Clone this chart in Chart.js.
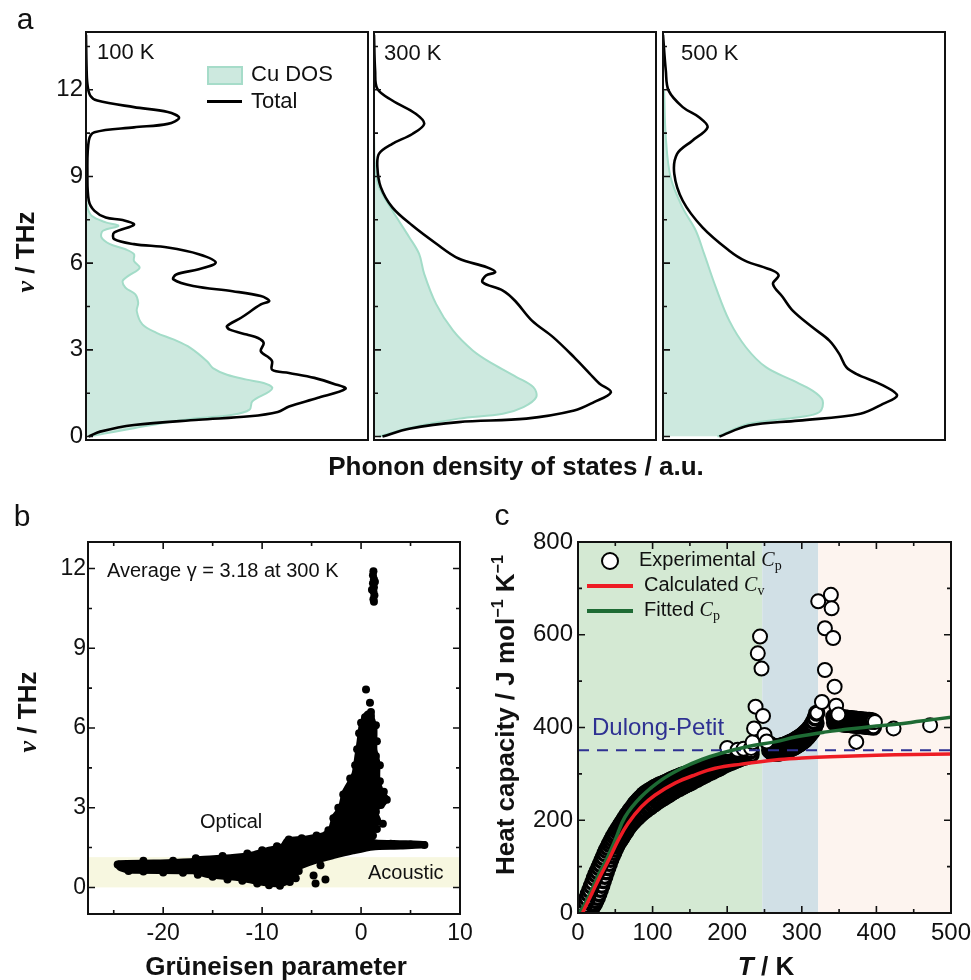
<!DOCTYPE html>
<html>
<head>
<meta charset="utf-8">
<script src="https://cdn.jsdelivr.net/npm/chart.js@4.4.1/dist/chart.umd.min.js"></script>
<style>
  body { margin: 0; background: #fff; }
  #fig { position: relative; width: 971px; height: 980px; overflow: hidden; background: #fff;
         font-family: "Liberation Sans", Arial, sans-serif; color: #111; }
  .cv { position: absolute; }
  .t { position: absolute; white-space: nowrap; line-height: 1; transform: translate(0, -50%); z-index: 5; }
  .c { transform: translate(-50%, -50%); }
  .rot { transform: translate(-50%, -50%) rotate(-90deg); }
  .b { font-weight: bold; }
  .nu { font-family: "Liberation Serif", serif; font-style: italic; font-weight: bold; }
  .sym { font-family: "Liberation Serif", serif; }
  .sym i { font-style: italic; }
  .sym sub { font-size: 0.7em; vertical-align: -0.25em; }
  sup { font-size: 0.62em; vertical-align: 0.7em; line-height: 0; }
  .sw { position: absolute; z-index: 5; }
</style>
</head>
<body>
<div id="fig">
  <div class="cv" style="left:0;top:0"><canvas id="a1" width="372" height="470"></canvas></div>
  <div class="cv" style="left:370px;top:0"><canvas id="a2" width="290" height="470"></canvas></div>
  <div class="cv" style="left:659px;top:0"><canvas id="a3" width="300" height="470"></canvas></div>
  <div class="cv" style="left:0;top:490px"><canvas id="b" width="480" height="490"></canvas></div>
  <div class="cv" style="left:490px;top:490px"><canvas id="c" width="481" height="490"></canvas></div>

  <!-- panel letters -->
  <div class="t c" style="left:25px;top:19px;font-size:30px">a</div>
  <div class="t c" style="left:22px;top:516px;font-size:30px">b</div>
  <div class="t c" style="left:502px;top:515px;font-size:30px">c</div>

  <!-- panel a text -->
  <div class="t" style="left:97px;top:52px;font-size:22px">100 K</div>
  <div class="t" style="left:384px;top:53px;font-size:22px">300 K</div>
  <div class="t" style="left:681px;top:53px;font-size:22px">500 K</div>
  <div class="sw" style="left:207px;top:66px;width:32px;height:15px;background:#cde9df;border:2px solid #a6dcc9"></div>
  <div class="t" style="left:251px;top:74px;font-size:22px">Cu DOS</div>
  <div class="sw" style="left:207px;top:100px;width:35px;height:3px;background:#000"></div>
  <div class="t" style="left:251px;top:101px;font-size:22px">Total</div>
  <div class="t rot b" style="left:25px;top:252px;font-size:26px"><span class="nu">ν</span> / THz</div>
  <div class="t c b" style="left:516px;top:466px;font-size:26px">Phonon density of states / a.u.</div>

  <!-- panel b text -->
  <div class="t" style="left:107px;top:570px;font-size:20px">Average γ = 3.18 at 300 K</div>
  <div class="t" style="left:200px;top:821px;font-size:20px">Optical</div>
  <div class="t" style="left:368px;top:872px;font-size:20px">Acoustic</div>
  <div class="t rot b" style="left:27px;top:712px;font-size:26px"><span class="nu">ν</span> / THz</div>
  <div class="t c b" style="left:276px;top:966px;font-size:26px">Grüneisen parameter</div>

  <!-- panel c text -->
  <div class="sw" style="left:601px;top:552px;width:14px;height:14px;border:2px solid #000;border-radius:50%;background:#fff"></div>
  <div class="t" style="left:639px;top:561px;font-size:20px">Experimental <span class="sym"><i>C</i><sub>p</sub></span></div>
  <div class="sw" style="left:587px;top:584px;width:46px;height:4px;background:#ee1c24"></div>
  <div class="t" style="left:644px;top:586px;font-size:20px">Calculated <span class="sym"><i>C</i><sub>v</sub></span></div>
  <div class="sw" style="left:587px;top:609px;width:46px;height:4px;background:#1e6b34"></div>
  <div class="t" style="left:644px;top:611px;font-size:20px">Fitted <span class="sym"><i>C</i><sub>p</sub></span></div>
  <div class="t" style="left:592px;top:727px;font-size:24px;color:#2e3192">Dulong-Petit</div>
  <div class="t rot b" style="left:505px;top:715px;font-size:26px">Heat capacity / J mol<sup>−1</sup> K<sup>−1</sup></div>
  <div class="t c b" style="left:766px;top:966px;font-size:26px"><i>T</i> / K</div>
</div>

<script>
// ---- panel a: phonon DOS (frequency in THz, DOS in a.u. as fraction of panel width)
const nuTicks = [0, 3, 6, 9, 12];
const nuMinor = [1.5, 4.5, 7.5, 10.5, 13.5];

const tot100Nu  = [0, 0.17, 0.4, 0.58, 0.7, 0.85, 1.04, 1.33, 1.65, 1.82, 2.03, 2.2, 2.31, 2.6, 2.72, 2.95, 3.24, 3.41, 3.53, 3.7, 3.82, 4.11, 4.57, 4.69, 4.86, 5.03, 5.21, 5.44, 5.61, 5.79, 6.02, 6.31, 6.54, 6.66, 6.83, 7.06, 7.33, 7.49, 7.58, 7.81, 8.16, 9.09, 10.24, 10.53, 10.7, 10.82, 11.03, 11.23, 11.4, 11.63, 11.8, 12.2, 12.8, 13.9];
const tot100Dos = [0.01, 0.05, 0.17, 0.40, 0.58, 0.68, 0.72, 0.82, 0.92, 0.88, 0.81, 0.72, 0.66, 0.66, 0.65, 0.62, 0.63, 0.61, 0.57, 0.51, 0.50, 0.55, 0.62, 0.65, 0.62, 0.52, 0.38, 0.31, 0.32, 0.40, 0.46, 0.40, 0.29, 0.17, 0.10, 0.10, 0.17, 0.13, 0.07, 0.03, 0.01, 0.005, 0.01, 0.03, 0.17, 0.29, 0.33, 0.29, 0.17, 0.04, 0.015, 0.005, 0.002, 0];
const cu100Nu   = [0, 0.29, 0.58, 0.75, 0.93, 1.22, 1.56, 1.7, 1.85, 1.97, 2.14, 2.37, 2.6, 3.07, 3.36, 3.59, 3.88, 4.34, 4.63, 4.92, 5.15, 5.38, 5.56, 5.84, 6.08, 6.31, 6.48, 6.66, 6.89, 7.12, 7.29, 7.41, 7.64, 7.93, 8.28];
const cu100Dos  = [0.01, 0.17, 0.35, 0.52, 0.58, 0.59, 0.65, 0.66, 0.63, 0.57, 0.50, 0.45, 0.43, 0.37, 0.31, 0.25, 0.20, 0.18, 0.185, 0.175, 0.14, 0.13, 0.15, 0.19, 0.17, 0.17, 0.14, 0.085, 0.055, 0.06, 0.115, 0.07, 0.02, 0.005, 0];

const tot300Nu  = [0, 0.27, 0.5, 0.62, 0.9, 1.19, 1.53, 1.83, 2.18, 2.74, 3.44, 4.01, 4.7, 5.05, 5.34, 5.57, 5.69, 5.86, 6.16, 6.68, 7.3, 7.93, 8.63, 9.32, 9.79, 10.13, 10.47, 10.82, 11.17, 11.63, 12.03, 12.66, 13.9];
const tot300Dos = [0.03, 0.125, 0.30, 0.54, 0.71, 0.78, 0.84, 0.80, 0.765, 0.71, 0.635, 0.56, 0.50, 0.457, 0.385, 0.397, 0.43, 0.40, 0.30, 0.22, 0.136, 0.065, 0.024, 0.012, 0.018, 0.065, 0.136, 0.178, 0.148, 0.065, 0.012, 0.004, 0];
const cu300Nu   = [0, 0.3, 0.62, 0.79, 1.02, 1.36, 1.71, 2.06, 2.52, 2.98, 3.67, 4.59, 5.63, 6.32, 6.9, 7.82, 8.63, 9.32, 10.5];
const cu300Dos  = [0.018, 0.125, 0.30, 0.457, 0.53, 0.575, 0.565, 0.505, 0.42, 0.35, 0.28, 0.22, 0.178, 0.16, 0.125, 0.065, 0.018, 0.004, 0];

const tot500Nu  = [0, 0.38, 0.55, 0.79, 1.13, 1.42, 1.77, 2.17, 2.4, 2.86, 3.32, 3.78, 4.36, 4.82, 5.28, 5.57, 5.74, 6.09, 6.43, 7.24, 8.16, 9.09, 9.78, 10.24, 10.7, 11.05, 11.4, 11.97, 12.66, 13.9];
const tot500Dos = [0.20, 0.305, 0.48, 0.70, 0.78, 0.83, 0.78, 0.685, 0.65, 0.625, 0.59, 0.53, 0.46, 0.425, 0.39, 0.41, 0.39, 0.29, 0.235, 0.14, 0.07, 0.04, 0.05, 0.104, 0.158, 0.128, 0.07, 0.02, 0.01, 0];
const cu500Nu   = [0, 0.44, 0.67, 0.85, 1.25, 1.59, 1.94, 2.4, 3.09, 4.01, 5.17, 6.32, 7.13, 7.93, 8.97, 10.35, 11.97];
const cu500Dos  = [0.193, 0.305, 0.48, 0.555, 0.566, 0.53, 0.46, 0.365, 0.294, 0.235, 0.187, 0.146, 0.116, 0.069, 0.027, 0.01, 0.004];

// ---- panel b: Grüneisen parameter vs frequency
const gruTicks = [-20, -10, 0, 10];
const gruMinor = [-25, -15, -5, 5];
const acousticBand = [0, 1.14];
// outline of the dense cloud of points
const blobGru = [-24.8, -24.5, -21, -17, -16.5, -13, -11, -9.5, -8, -7.6, -5.5, -4, -3.2, -2.8, -2.2, -1.8, -1.2, -0.8, -0.5, -0.3, -0.1, 0.2, 0.6, 1.2, 1.5, 1.5, 1.8, 1.8, 2.2, 2.7, 2.3, 1.5, 1.9, 1.3, 0.9, 1.5, 4, 6.5, 6.6, 4, 1.2, -0.8, -2.8, -4.5, -6.2, -6.8, -8, -10, -12.5, -15.4, -17, -23.5, -24.5, -24.8];
const blobNu  = [0.85, 0.97, 0.99, 1.05, 1.12, 1.2, 1.3, 1.46, 1.6, 1.82, 1.9, 2.0, 2.2, 2.7, 3.0, 3.6, 4.0, 4.3, 5.0, 5.5, 6.1, 6.4, 6.6, 6.4, 6.0, 5.2, 4.7, 4.1, 3.6, 3.35, 3.1, 2.9, 2.5, 2.2, 1.85, 1.75, 1.72, 1.68, 1.55, 1.48, 1.45, 1.3, 1.12, 0.95, 0.7, 0.3, 0.07, 0.12, 0.3, 0.4, 0.55, 0.58, 0.7, 0.85];
// individual points on the edge of the cloud and isolated modes
const dotGru = [-24.6, -23.5, -22, -20, -18, -16.5, -15, -13.5, -12, -10.5, -9.3, -8.2, -7.2, -6.6, -6.3, -22, -19, -16.7, -14, -11.5, -10, -8.5, -7.3, -6, -4.5, -3.3, -2.8, -2.3, -1.8, -1.1, -0.6, -0.4, -0.2, 0.0, 0.4, 1.0, 1.5, 1.6, 1.5, 1.9, 1.9, 2.3, 2.6, 2.0, 1.5, 2.2, 1.6, 1.2, 6.4, 5, 3, -4.1, -4.6, -3.6, -4.8, 0.5, 0.9, 1.0, 1.25, 1.2, 1.3, 1.2, 1.3, 1.25, 1.35, 1.25, 1.3, 1.4, 1.1];
const dotNu  = [0.86, 0.62, 0.6, 0.56, 0.55, 0.48, 0.4, 0.3, 0.25, 0.15, 0.08, 0.06, 0.2, 0.35, 0.62, 1.0, 1.0, 1.1, 1.18, 1.28, 1.4, 1.55, 1.8, 1.85, 1.95, 2.15, 2.6, 3.0, 3.5, 4.1, 4.6, 5.2, 5.8, 6.2, 6.4, 6.45, 6.1, 5.5, 4.95, 4.6, 4.0, 3.6, 3.3, 3.1, 2.85, 2.4, 2.2, 1.95, 1.6, 1.62, 1.64, 0.83, 0.15, 0.3, 0.45, 7.45, 6.95, 6.6, 11.9, 11.75, 11.6, 11.45, 11.3, 11.15, 11.0, 10.85, 10.75, 11.5, 11.2];

// ---- panel c: heat capacity
const tTicks = [0, 100, 200, 300, 400, 500];
const tMinor = [50, 150, 250, 350, 450];
const cTicks = [0, 200, 400, 600, 800];
const cMinor = [100, 300, 500, 700];
const regionFrom  = [0, 247, 322];
const regionTo    = [247, 322, 500];
const regionColor = ['#d4e9d3', '#d1e0e6', '#fdf4ef'];
const dulongPetit = 351;

// measured Cp: upper edge of the dense band (low T, 250-320 K, 343-395 K)
const expUpT  = [6, 8, 10, 12, 14, 16, 18, 20, 22, 24, 26, 28, 30, 32, 34, 36, 38, 40, 42, 44, 46, 48, 50, 52, 54, 56, 58, 60, 62, 64, 66, 68, 70, 72, 74, 76, 78, 80, 82, 84, 86, 88,
                 91, 94, 97, 100, 103, 106, 109, 112, 115, 118, 121, 124, 127, 130, 133, 136, 139, 142, 145, 148, 151, 154, 157, 160, 163, 166, 169, 172, 175, 178, 181, 184, 187, 190, 193, 196, 199, 202, 205, 208, 211, 214, 217, 220, 223, 226, 229, 232,
                 256, 258, 260, 262, 264, 266, 268, 270, 272, 274, 276, 278, 280, 282, 284, 286, 288, 290, 292, 294, 296, 298, 300, 302, 304, 306, 308, 310, 312, 314, 316, 318, 320,
                 343, 345, 347, 349, 351, 353, 355, 357, 359, 361, 363, 365, 367, 369, 371, 373, 375, 377, 379, 381, 383, 385, 387, 389, 391, 393, 395];
const expUpCp = [7, 15, 24, 32, 41, 49, 58, 66, 75, 83, 90, 98, 105, 113, 120, 128, 135, 141, 148, 154, 160, 166, 171, 177, 182, 187, 192, 197, 202, 207, 212, 216, 221, 225, 229, 234, 238, 241, 245, 248, 251, 255,
                 259, 262, 265, 268, 271, 273, 276, 278, 280, 282, 284, 287, 289, 291, 293, 295, 297, 298, 300, 302, 303, 305, 307, 308, 310, 311, 313, 314, 316, 318, 320, 322, 324, 326, 328, 330, 332, 334, 335, 337, 339, 340, 342, 344, 345, 347, 348, 350,
                 365, 362, 360, 359, 358, 358, 358, 359, 360, 361, 362, 363, 364, 366, 367, 369, 370, 372, 374, 376, 378, 380, 382, 385, 388, 391, 394, 398, 402, 407, 413, 421, 431,
                 423, 423, 422, 422, 421, 421, 421, 420, 420, 420, 419, 419, 419, 418, 418, 418, 417, 417, 417, 416, 416, 416, 415, 415, 415, 414, 414];
// measured Cp: lower edge of the dense band
const expLoT  = [16, 18, 20, 22, 24, 26, 28, 30, 32, 34, 36, 38, 40, 42, 44, 46, 48, 50, 52, 54, 56, 58, 60, 62, 64, 66, 68, 70, 72, 74, 76, 78, 80, 82, 84, 86, 88,
                 91, 94, 97, 100, 103, 106, 109, 112, 115, 118, 121, 124, 127, 130, 133, 136, 139, 142, 145, 148, 151, 154, 157, 160, 163, 166, 169, 172, 175, 178, 181, 184, 187, 190, 193, 196, 199, 202, 205, 208, 211, 214, 217, 220, 223, 226, 229, 232,
                 257, 259, 261, 263, 265, 267, 269, 271, 273, 275, 277, 279, 281, 283, 285, 287, 289, 291, 293, 295, 297, 299, 301, 303, 305, 307, 309, 311, 313, 315, 317, 319,
                 344, 346, 348, 350, 352, 354, 356, 358, 360, 362, 364, 366, 368, 370, 372, 374, 376, 378, 380, 382, 384, 386, 388, 390, 392, 394, 396];
const expLoCp = [5, 10, 15, 20, 27, 34, 42, 51, 60, 70, 79, 89, 98, 107, 116, 124, 131, 138, 145, 151, 156, 161, 166, 171, 176, 181, 186, 190, 194, 197, 201, 204, 207, 210, 213, 216, 219,
                 222, 226, 229, 233, 236, 240, 243, 246, 249, 252, 255, 258, 261, 264, 267, 269, 272, 274, 277, 279, 281, 284, 287, 289, 292, 294, 297, 299, 302, 304, 306, 309, 311, 313, 316, 319, 321, 323, 325, 327, 329, 331, 333, 335, 336, 338, 340, 342,
                 351, 348, 346, 345, 345, 345, 345, 346, 347, 348, 349, 350, 351, 353, 354, 356, 357, 359, 361, 363, 365, 367, 370, 372, 375, 378, 382, 386, 390, 395, 401, 409,
                 410, 410, 409, 409, 409, 408, 408, 408, 407, 407, 407, 406, 406, 406, 405, 405, 405, 404, 404, 404, 403, 403, 403, 402, 402, 402, 401];
// measured Cp: separate circles round the two transitions and above 370 K
const expPkT  = [200, 214, 222, 232, 234, 236, 238, 241, 244, 246, 248, 250, 253, 322, 339, 340, 331, 342, 331, 344, 327, 346, 349, 373, 398, 423, 472];
const expPkCp = [356, 352, 354, 356, 368, 398, 445, 560, 596, 527, 425, 384, 370, 672, 686, 657, 614, 593, 524, 488, 455, 447, 428, 369, 412, 398, 405];

const cvT  = [6, 12, 18, 23, 30, 41, 54, 67, 85, 103, 130, 157, 184, 219, 264, 300, 338, 400, 450, 500];
const cvC  = [0, 20, 40, 57, 80, 114, 157, 193, 229, 254, 280, 298, 312, 321, 330, 334, 337, 340, 342, 343];
const fitT = [2, 10, 20, 30, 40, 50, 63, 85, 112, 139, 166, 193, 228, 264, 293, 330, 360, 400, 427, 460, 500];
const fitC = [0, 22, 56, 90, 122, 158, 207, 251, 287, 312, 331, 345, 359, 369, 380, 390, 396, 403, 407, 414, 422];

Chart.defaults.font.family = '"Liberation Sans", Arial, sans-serif';
Chart.defaults.color = '#111';

const pts = (xs, ys) => xs.map((x, i) => ({ x: x, y: ys[i] }));

// box round the plot area
const framePlugin = {
    id: 'frame',
    afterDraw(chart, args, o) {
        const { ctx, chartArea: a } = chart;
        ctx.save();
        ctx.strokeStyle = '#111';
        ctx.lineWidth = o.width || 2;
        ctx.strokeRect(a.left, a.top, a.right - a.left, a.bottom - a.top);
        ctx.restore();
    }
};

// inward tick marks
const marksPlugin = {
    id: 'marks',
    afterDatasetsDraw(chart, args, o) {
        const { ctx, chartArea: a, scales } = chart;
        ctx.save();
        ctx.strokeStyle = '#111';
        ctx.lineWidth = 1.6;
        ctx.beginPath();
        const put = (scale, vals, len, sides) => vals.forEach(v => {
            const p = scale.getPixelForValue(v);
            sides.forEach(s => {
                if (s === 'left')   { ctx.moveTo(a.left, p);   ctx.lineTo(a.left + len, p); }
                if (s === 'right')  { ctx.moveTo(a.right, p);  ctx.lineTo(a.right - len, p); }
                if (s === 'bottom') { ctx.moveTo(p, a.bottom); ctx.lineTo(p, a.bottom - len); }
                if (s === 'top')    { ctx.moveTo(p, a.top);    ctx.lineTo(p, a.top + len); }
            });
        });
        if (o.y) { put(scales.y, o.y.major, 7, o.y.sides); put(scales.y, o.y.minor, 4, o.y.sides); }
        if (o.x) { put(scales.x, o.x.major, 7, o.x.sides); put(scales.x, o.x.minor, 4, o.x.sides); }
        ctx.stroke();
        ctx.restore();
    }
};

// shaded background bands
const bandsPlugin = {
    id: 'bands',
    beforeDatasetsDraw(chart, args, o) {
        const { ctx, chartArea: a, scales } = chart;
        ctx.save();
        (o.x || []).forEach(b => {
            const x0 = scales.x.getPixelForValue(b.from), x1 = scales.x.getPixelForValue(b.to);
            ctx.fillStyle = b.color;
            ctx.fillRect(x0, a.top, x1 - x0, a.bottom - a.top);
        });
        (o.y || []).forEach(b => {
            const y0 = scales.y.getPixelForValue(b.from), y1 = scales.y.getPixelForValue(b.to);
            ctx.fillStyle = b.color;
            ctx.fillRect(a.left, y1, a.right - a.left, y0 - y1);
        });
        ctx.restore();
    }
};

const fixTicks = vals => scale => { scale.ticks = vals.map(v => ({ value: v })); };
const fixWidth = w => scale => { scale.width = w; scale.paddingTop = 0; scale.paddingBottom = 0; };
const fixHeight = h => scale => { scale.height = h; scale.paddingLeft = 0; scale.paddingRight = 0; };
const noGrid = { display: false, drawTicks: false };

function dosChart(id, totNu, totDos, cuNu, cuDos, pad, showLabels) {
    return new Chart(document.getElementById(id), {
        type: 'line',
        data: {
            datasets: [
                { label: 'Total', data: pts(totDos, totNu), borderColor: '#000', borderWidth: 2.6,
                  pointRadius: 0, tension: 0.35, fill: false },
                { label: 'Cu DOS', data: pts(cuDos, cuNu), borderColor: '#a3dcc8', backgroundColor: 'rgba(196,229,217,0.85)',
                  borderWidth: 2, pointRadius: 0, tension: 0.35, fill: 'origin' }
            ]
        },
        options: {
            indexAxis: 'y',
            responsive: false,
            animation: false,
            devicePixelRatio: 1,
            events: [],
            layout: { padding: pad },
            plugins: {
                legend: { display: false },
                tooltip: { enabled: false },
                frame: { width: 2 },
                marks: { y: { major: nuTicks, minor: nuMinor, sides: ['left'] } }
            },
            scales: {
                x: { type: 'linear', display: false, min: 0, max: 1 },
                y: {
                    type: 'linear', display: showLabels, min: -0.12, max: 14,
                    afterBuildTicks: fixTicks(nuTicks), afterFit: fixWidth(showLabels ? 86 : 0),
                    ticks: { font: { size: 24 }, padding: 3, color: '#111' },
                    grid: noGrid, border: { display: false }
                }
            }
        },
        plugins: [framePlugin, marksPlugin]
    });
}

dosChart('a1', tot100Nu, tot100Dos, cu100Nu, cu100Dos, { left: 0, top: 32, right: 4, bottom: 30 }, true);
dosChart('a2', tot300Nu, tot300Dos, cu300Nu, cu300Dos, { left: 4, top: 32, right: 4, bottom: 30 }, false);
dosChart('a3', tot500Nu, tot500Dos, cu500Nu, cu500Dos, { left: 4, top: 32, right: 14, bottom: 30 }, false);

new Chart(document.getElementById('b'), {
    type: 'scatter',
    data: {
        datasets: [
            { label: 'points', data: pts(dotGru, dotNu), pointRadius: 4, pointBackgroundColor: '#000', pointBorderWidth: 0 },
            { label: 'cloud', data: pts(blobGru, blobNu), showLine: true, fill: 'shape', tension: 0.2,
              borderColor: '#000', backgroundColor: '#000', borderWidth: 3, pointRadius: 0 }
        ]
    },
    options: {
        responsive: false,
        animation: false,
        devicePixelRatio: 1,
        events: [],
        layout: { padding: { left: 0, top: 52, right: 20, bottom: 0 } },
        plugins: {
            legend: { display: false },
            tooltip: { enabled: false },
            frame: { width: 2 },
            bands: { y: [{ from: acousticBand[0], to: acousticBand[1], color: '#f7f7e0' }] },
            marks: {
                y: { major: nuTicks, minor: [1.5, 4.5, 7.5, 10.5], sides: ['left', 'right'] },
                x: { major: gruTicks, minor: gruMinor, sides: ['top', 'bottom'] }
            }
        },
        scales: {
            x: {
                type: 'linear', min: -27.6, max: 10,
                afterBuildTicks: fixTicks(gruTicks), afterFit: fixHeight(66),
                ticks: { font: { size: 23 }, padding: 6, color: '#111' },
                grid: noGrid, border: { display: false }
            },
            y: {
                type: 'linear', min: -1, max: 13,
                afterBuildTicks: fixTicks(nuTicks), afterFit: fixWidth(88),
                ticks: { font: { size: 23 }, padding: 2, color: '#111' },
                grid: noGrid, border: { display: false }
            }
        }
    },
    plugins: [bandsPlugin, framePlugin, marksPlugin]
});

const circleStyle = { pointRadius: 7, pointBackgroundColor: '#fff', pointBorderColor: '#000', pointBorderWidth: 2 };
// overlapping circles in the dense band: heavier outline so they merge into a dark ribbon
const bandStyle = { pointRadius: 7, pointBackgroundColor: '#fff', pointBorderColor: '#000', pointBorderWidth: 3.4 };

new Chart(document.getElementById('c'), {
    type: 'scatter',
    data: {
        datasets: [
            { label: 'Calculated Cv', data: pts(cvT, cvC), showLine: true, tension: 0.4, borderColor: '#ee1c24',
              borderWidth: 3.5, pointRadius: 0 },
            { label: 'Fitted Cp', data: pts(fitT, fitC), showLine: true, tension: 0.4, borderColor: '#1e6b34',
              borderWidth: 3.5, pointRadius: 0 },
            { label: 'Dulong-Petit', data: [{ x: 0, y: dulongPetit }, { x: 500, y: dulongPetit }], showLine: true,
              borderColor: '#2e3192', borderWidth: 2, borderDash: [11, 8], pointRadius: 0 },
            Object.assign({ label: 'Experimental Cp', data: pts(expPkT, expPkCp) }, circleStyle),
            Object.assign({ label: 'Experimental Cp (band, upper)', data: pts(expUpT, expUpCp) }, bandStyle),
            Object.assign({ label: 'Experimental Cp (band, lower)', data: pts(expLoT, expLoCp) }, bandStyle)
        ]
    },
    options: {
        responsive: false,
        animation: false,
        devicePixelRatio: 1,
        events: [],
        layout: { padding: { left: 0, top: 52, right: 20, bottom: 0 } },
        plugins: {
            legend: { display: false },
            tooltip: { enabled: false },
            frame: { width: 2 },
            bands: { x: regionFrom.map((f, i) => ({ from: f, to: regionTo[i], color: regionColor[i] })) },
            marks: {
                y: { major: cTicks, minor: cMinor, sides: ['left', 'right'] },
                x: { major: tTicks, minor: tMinor, sides: ['top', 'bottom'] }
            }
        },
        scales: {
            x: {
                type: 'linear', min: 0, max: 500,
                afterBuildTicks: fixTicks(tTicks), afterFit: fixHeight(67),
                ticks: { font: { size: 24 }, padding: 6, color: '#111' },
                grid: noGrid, border: { display: false }
            },
            y: {
                type: 'linear', min: 0, max: 800,
                afterBuildTicks: fixTicks(cTicks), afterFit: fixWidth(88),
                ticks: { font: { size: 24 }, padding: 5, color: '#111' },
                grid: noGrid, border: { display: false }
            }
        }
    },
    plugins: [bandsPlugin, framePlugin, marksPlugin]
});
</script>
</body>
</html>
